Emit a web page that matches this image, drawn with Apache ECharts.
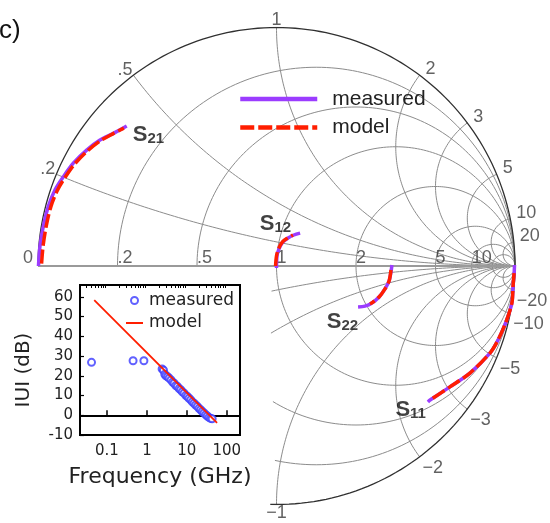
<!DOCTYPE html>
<html>
<head>
<meta charset="utf-8">
<script src="https://cdn.jsdelivr.net/npm/echarts@6/dist/echarts.min.js"></script>
<style>
  html, body { margin: 0; padding: 0; background: #fff; }
  #chart { width: 550px; height: 523px; }
</style>
</head>
<body>
<div id="chart"></div>
<script>
// ---------- Smith chart grid values ----------
const resistanceValues = [0.2, 0.5, 1, 2, 5, 10, 20];
const reactanceValues = [0.2, 0.5, 1, 2, 3, 5, 10, 20];
const realAxisLabelValues = [0, 0.2, 0.5, 1, 2, 5, 10];
const realAxisLabels = ['0', '.2', '.5', '1', '2', '5', '10'];
const upperArcLabelValues = [0.2, 0.5, 1, 2, 3, 5, 10, 20];
const upperArcLabels = ['.2', '.5', '1', '2', '3', '5', '10', '20'];
const lowerArcLabelValues = [-1, -2, -3, -5, -10, -20];
const lowerArcLabels = ['\u22121', '\u22122', '\u22123', '\u22125', '\u221210', '\u221220'];

// ---------- S-parameters, reflection plane [Re, Im] ----------
const s21Measured = [[-0.998, 0.0], [-0.992, 0.081], [-0.978, 0.165], [-0.957, 0.249], [-0.929, 0.319], [-0.894, 0.374], [-0.852, 0.431], [-0.796, 0.486], [-0.740, 0.528], [-0.684, 0.556], [-0.628, 0.587]];
const s21Model = [[-0.985, 0.010], [-0.979, 0.081], [-0.966, 0.165], [-0.946, 0.249], [-0.919, 0.317], [-0.886, 0.372], [-0.846, 0.428], [-0.792, 0.483], [-0.737, 0.526], [-0.683, 0.556], [-0.640, 0.578]];
const s12Measured = [[0.0, -0.008], [0.002, 0.042], [0.010, 0.071], [0.027, 0.101], [0.048, 0.117], [0.073, 0.130], [0.099, 0.138]];
const s12Model = [[-0.004, 0.0], [0.0, 0.042], [0.008, 0.071], [0.025, 0.101], [0.046, 0.117], [0.069, 0.130]];
const s22Measured = [[0.484, 0.004], [0.480, -0.025], [0.472, -0.063], [0.455, -0.096], [0.430, -0.130], [0.400, -0.155], [0.371, -0.168], [0.342, -0.172]];
const s22Model = [[0.480, -0.017], [0.472, -0.063], [0.455, -0.096], [0.430, -0.130], [0.400, -0.155], [0.392, -0.159]];
const s11Measured = [[0.998, 0.004], [0.996, -0.038], [0.992, -0.080], [0.987, -0.155], [0.962, -0.235], [0.929, -0.310], [0.895, -0.365], [0.811, -0.449], [0.727, -0.507], [0.644, -0.562], [0.635, -0.570]];
const s11Model = [[0.996, -0.030], [0.992, -0.080], [0.987, -0.155], [0.962, -0.235], [0.929, -0.310], [0.895, -0.365], [0.811, -0.449], [0.727, -0.507], [0.644, -0.562]];
const sNames = ['21', '12', '22', '11'];

// ---------- Unilateral gain vs frequency [GHz, dB] ----------
const freqTicks = [0.1, 1, 10, 100];
const freqMinorTicks = [0.03, 0.04, 0.05, 0.06, 0.07, 0.08, 0.09, 0.2, 0.3, 0.4, 0.5, 0.6, 0.7, 0.8, 0.9, 2, 3, 4, 5, 6, 7, 8, 9, 20, 30, 40, 50, 60, 70, 80, 90, 200];
const uMeasured = [[0.041, 26.8], [0.45, 27.6], [0.84, 27.6], [2.4, 23.5], [2.6, 22.8], [2.8, 20.8], [3.0, 20.0], [3.3, 19.5], [3.6, 18.8], [4.0, 17.9], [4.4, 16.8], [4.8, 16.2], [5.3, 15.1], [5.8, 14.6], [6.4, 13.5], [7.0, 12.9], [7.7, 11.9], [8.5, 11.2], [9.4, 10.1], [10.3, 9.5], [11.3, 8.6], [12.5, 7.8], [13.7, 6.8], [15.1, 6.1], [16.6, 5.2], [18.3, 4.5], [20.1, 3.5], [22.1, 2.8], [24.3, 1.9], [26.8, 1.2], [29.5, 0.3], [32.4, -0.4], [35.7, -1.1], [39.2, -1.6], [43.0, -1.8]];
const uModel = [[0.048, 58.3], [57, -3.8]];

const FONT = '"Liberation Sans", Arial, sans-serif';
const INSET_FONT = '"DejaVu Sans", sans-serif';
const PURPLE = '#9b3cff';
const RED = '#ff1e00';
const BLUE = '#3a3aff';

// Lower-left quadrant of the chart is left open for the inset plot.
function masked(u, v) { return v < -0.012 && u < -0.027; }
function toPoints(list) { return list.map(([u, v]) => (masked(u, v) ? [u, '-'] : [u, v])); }

const STEPS = 240;
function resistanceCircle(r) {
  const c = r / (1 + r), rad = 1 / (1 + r), pts = [];
  for (let i = 0; i <= STEPS; i++) {
    const t = 2 * Math.PI * i / STEPS;
    pts.push([c + rad * Math.cos(t), rad * Math.sin(t)]);
  }
  return toPoints(pts);
}
function reactanceArc(x) {
  const ax = Math.abs(x), s = Math.sign(x);
  let t0 = Math.atan2((ax * ax - 1) / (ax * (ax * ax + 1)), -2 / (ax * ax + 1));
  if (t0 < 0) t0 += 2 * Math.PI;
  const t1 = 1.5 * Math.PI, pts = [];
  for (let i = 0; i <= STEPS; i++) {
    const t = t0 + (t1 - t0) * i / STEPS;
    pts.push([1 + Math.cos(t) / ax, s * (1 + Math.sin(t)) / ax]);
  }
  return toPoints(pts);
}
function boundaryPoint(x) { return [(x * x - 1) / (x * x + 1), 2 * x / (x * x + 1)]; }
function joinCurves(curves) {
  const out = [];
  curves.forEach((c, i) => { if (i) out.push(['-', '-']); out.push(...c); });
  return out;
}

const gridLine = { color: '#8c8c8c', width: 1 };
const series = [];
resistanceValues.forEach(r => series.push({
  type: 'line', xAxisIndex: 0, yAxisIndex: 0, data: resistanceCircle(r), showSymbol: false,
  symbol: 'none', silent: true, lineStyle: gridLine, z: 1, animation: false
}));
reactanceValues.forEach(x => [x, -x].forEach(xx => series.push({
  type: 'line', xAxisIndex: 0, yAxisIndex: 0, data: reactanceArc(xx), showSymbol: false,
  symbol: 'none', silent: true, lineStyle: gridLine, z: 1, animation: false
})));
// outer boundary (r = 0)
series.push({
  type: 'line', xAxisIndex: 0, yAxisIndex: 0, data: resistanceCircle(0), symbol: 'none',
  silent: true, lineStyle: { color: '#303030', width: 1.3 }, z: 2, animation: false
});
// real axis
series.push({
  type: 'line', xAxisIndex: 0, yAxisIndex: 0, data: [[-1, 0], [1, 0]], symbol: 'none',
  silent: true, lineStyle: { color: '#9a9a9a', width: 2 }, z: 2, animation: false
});

// grid labels
const labelStyle = { show: true, formatter: '{b}', fontFamily: FONT, fontSize: 18, color: '#3a3a3a' };
const gridLabelData = [];
realAxisLabelValues.forEach((r, i) => {
  const u = (r - 1) / (r + 1);
  gridLabelData.push({
    name: realAxisLabels[i], value: [u, 0],
    label: Object.assign({}, labelStyle, r === 0
      ? { position: [-5, -8], align: 'right', verticalAlign: 'middle' }
      : { position: [0, -8], align: 'left', verticalAlign: 'middle' })
  });
});
upperArcLabelValues.forEach((x, i) => {
  const p = boundaryPoint(x);
  let cfg;
  if (p[0] < -0.3) cfg = { position: [-1, 4], align: 'right', verticalAlign: 'bottom' };
  else if (Math.abs(p[0]) <= 0.3) cfg = { position: [0, 2], align: 'center', verticalAlign: 'bottom' };
  else cfg = { position: [6, -6], align: 'left', verticalAlign: 'middle' };
  gridLabelData.push({ name: upperArcLabels[i], value: p, label: Object.assign({}, labelStyle, cfg) });
});
lowerArcLabelValues.forEach((x, i) => {
  const p = boundaryPoint(x);
  const cfg = Math.abs(p[0]) <= 0.3
    ? { position: [0, 9], align: 'center', verticalAlign: 'middle' }
    : { position: [3, 11], align: 'left', verticalAlign: 'middle' };
  gridLabelData.push({ name: lowerArcLabels[i], value: p, label: Object.assign({}, labelStyle, cfg) });
});
series.push({
  type: 'scatter', xAxisIndex: 0, yAxisIndex: 0, data: gridLabelData, symbolSize: 0,
  silent: true, z: 3, animation: false
});

// measured and model S-parameter traces
series.push({
  name: 'measured', type: 'line', xAxisIndex: 0, yAxisIndex: 0,
  data: joinCurves([s21Measured, s12Measured, s22Measured, s11Measured]),
  symbol: 'none', smooth: 0.3, lineStyle: { color: PURPLE, width: 3.5 }, itemStyle: { color: PURPLE },
  z: 4, animation: false
});
series.push({
  name: 'model', type: 'line', xAxisIndex: 0, yAxisIndex: 0,
  data: joinCurves([s21Model, s12Model, s22Model, s11Model]),
  symbol: 'none', smooth: 0.3, lineStyle: { color: RED, width: 3.5, type: [14, 4] }, itemStyle: { color: RED },
  z: 5, animation: false
});

// S-parameter names next to the trace ends
const traceEnds = [s21Measured, s12Measured, s22Measured, s11Measured].map(a => a[a.length - 1]);
const sLabelCfg = [
  { position: [6, -2], align: 'left', verticalAlign: 'top' },
  { position: [-9, 2], align: 'right', verticalAlign: 'bottom' },
  { position: [0, 4], align: 'right', verticalAlign: 'top' },
  { position: [-2, -3], align: 'right', verticalAlign: 'top' }
];
series.push({
  type: 'scatter', xAxisIndex: 0, yAxisIndex: 0, symbolSize: 0, silent: true, z: 6, animation: false,
  data: traceEnds.map((p, i) => ({
    name: sNames[i], value: p,
    label: Object.assign({
      show: true, formatter: '{s|S}{sub|' + sNames[i] + '}',
      rich: {
        s: { fontFamily: FONT, fontWeight: 'bold', fontSize: 22, lineHeight: 22, color: '#111', verticalAlign: 'top' },
        sub: { fontFamily: FONT, fontWeight: 'bold', fontSize: 15, lineHeight: 15, color: '#111', verticalAlign: 'bottom', padding: [11, 0, 0, 0] }
      }
    }, sLabelCfg[i])
  }))
});

// inset: unilateral gain
series.push({
  name: 'U measured', type: 'scatter', xAxisIndex: 1, yAxisIndex: 1, data: uMeasured,
  symbol: 'emptyCircle', symbolSize: 7, itemStyle: { color: BLUE, borderWidth: 1.2 }, z: 7, animation: false
});
series.push({
  name: 'U model', type: 'line', xAxisIndex: 1, yAxisIndex: 1, data: uModel, symbol: 'none',
  lineStyle: { color: RED, width: 1.8 }, itemStyle: { color: RED }, z: 8, animation: false
});

const option = {
  backgroundColor: '#fff',
  animation: false,
  title: { text: 'c)', left: -1, top: 18, padding: 0, textStyle: { fontFamily: FONT, fontSize: 26, fontWeight: 'normal', color: '#111' } },
  grid: [
    { left: 38, top: 27.5, width: 477, height: 477, outerBoundsMode: 'none' },
    { left: 80, top: 285, width: 160, height: 150, show: true, borderColor: '#000', borderWidth: 2, backgroundColor: '#fff', outerBoundsMode: 'none', z: 5 }
  ],
  xAxis: [
    { gridIndex: 0, type: 'value', min: -1, max: 1, show: false },
    {
      gridIndex: 1, type: 'log', min: 0.0211, max: 214, z: 6,
      axisLine: { lineStyle: { color: '#000', width: 2 } },
      axisTick: { inside: true, length: 5, customValues: freqTicks, lineStyle: { color: '#000', width: 1.5 } },
      axisLabel: { customValues: freqTicks, margin: 9, fontFamily: INSET_FONT, fontSize: 15, color: '#222', formatter: v => String(+v.toPrecision(3)) },
      splitLine: { show: false },
      name: 'Frequency (GHz)', nameLocation: 'middle', nameGap: 31,
      nameTextStyle: { fontFamily: INSET_FONT, fontSize: 22, color: '#222' }
    },
    {
      gridIndex: 1, type: 'log', min: 0.0211, max: 214, z: 6,
      axisLine: { show: false },
      axisTick: { inside: true, length: 3, customValues: freqMinorTicks, lineStyle: { color: '#000', width: 1 } },
      axisLabel: { show: false }, splitLine: { show: false }
    }
  ],
  yAxis: [
    { gridIndex: 0, type: 'value', min: -1, max: 1, show: false },
    {
      gridIndex: 1, type: 'value', min: -10, max: 66, interval: 10, z: 6,
      axisLine: { show: true, lineStyle: { color: '#000', width: 2 } },
      axisTick: { show: true, inside: true, length: 4, lineStyle: { color: '#000', width: 1.2 } },
      axisLabel: { showMaxLabel: false, margin: 7, fontFamily: INSET_FONT, fontSize: 15, color: '#222' },
      splitLine: { show: false },
      name: 'IUI (dB)', nameLocation: 'middle', nameGap: 46, nameRotate: 90,
      nameTextStyle: { fontFamily: INSET_FONT, fontSize: 20, color: '#222', padding: [0, 20, 0, 0] }
    }
  ],
  legend: [
    {
      data: ['measured', 'model'], orient: 'vertical', left: 238, top: 88.5, padding: 0,
      itemWidth: 77, itemHeight: 14, itemGap: 7.5, selectedMode: false,
      lineStyle: { width: 4.5 }, itemStyle: { opacity: 0 },
      textStyle: { fontFamily: FONT, fontSize: 21, color: '#222', padding: [0, 0, 0, 10] }
    },
    {
      data: [{ name: 'U measured' }, { name: 'U model', itemStyle: { opacity: 0 } }],
      orient: 'vertical', left: 125, top: 292, padding: 0, z: 9,
      itemWidth: 17, itemHeight: 7, itemGap: 5.5, selectedMode: false,
      formatter: n => n.replace('U ', ''),
      textStyle: { fontFamily: INSET_FONT, fontSize: 17, color: '#222', padding: [0, 0, 0, 1] }
    }
  ],
  series: series
};

const chart = echarts.init(document.getElementById('chart'), null, { renderer: 'canvas' });
chart.setOption(option);
</script>
</body>
</html>
